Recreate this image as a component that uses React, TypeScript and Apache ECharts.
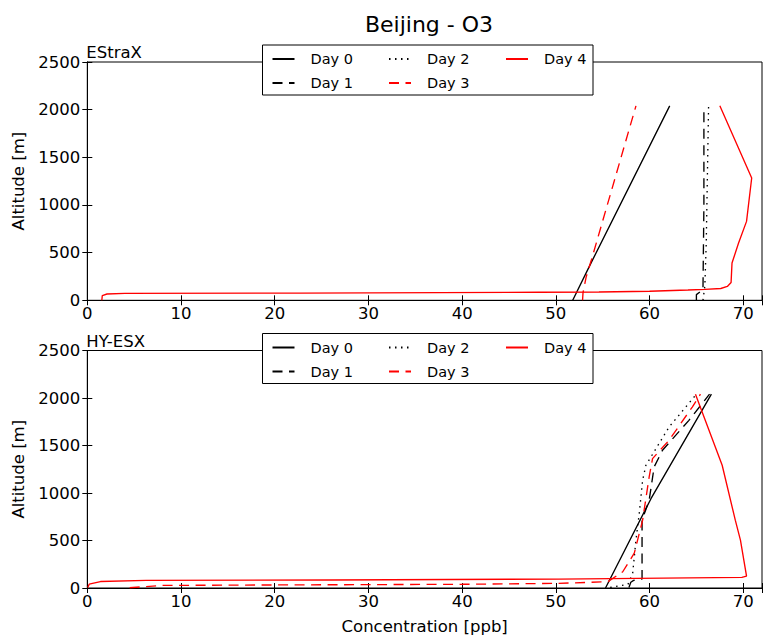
import React, { useEffect, useRef } from "react";
import * as echarts from "echarts";

// ---------- data ----------
const X_MIN = 0;
const X_MAX = 72;
const X_STEP = 10;
const Y_MIN = 0;
const Y_MAX = 2500;
const Y_STEP = 500;

const TITLE = "Beijing - O3";
const PANEL_NAMES = ["EStraX", "HY-ESX"];
const X_LABEL = "Concentration [ppb]";
const Y_LABEL = "Altitude [m]";
const DAY_NAMES = ["Day 0", "Day 1", "Day 2", "Day 3", "Day 4"];

// EStraX profiles: [concentration ppb, altitude m]
const estraxDay0 = [[51.8, 0], [53.8, 400], [62.15, 2040]];
const estraxDay1 = [[65.0, 0], [65.0, 60], [65.7, 110], [65.8, 1000], [65.8, 2040]];
const estraxDay2 = [[65.7, 0], [65.9, 150], [66.05, 600], [66.3, 2040]];
const estraxDay3 = [[52.85, 0], [52.9, 80], [53.25, 250], [53.8, 425], [58.55, 2040]];
const estraxDay4 = [
  [1.55, 0], [1.6, 50], [2.1, 66], [4, 72], [22.7, 76], [48.2, 84], [54.6, 87],
  [60, 95], [64.1, 108], [65.9, 115], [67.6, 124], [68.3, 145], [68.7, 187],
  [68.8, 391], [69.5, 601], [70.35, 828], [70.9, 1283], [67.5, 2040],
];

// HY-ESX profiles
const hyDay0 = [[55.3, 0], [60.15, 940], [66.6, 2040]];
const hyDay1 = [
  [57.8, 5], [58.0, 60], [58.3, 80], [59.2, 95], [59.2, 714], [59.96, 924],
  [60.49, 1274], [61.38, 1450], [64.2, 1765], [66.4, 2040],
];
const hyDay2 = [
  [55.8, 5], [57.7, 40], [58.2, 157], [58.55, 504], [58.9, 784], [59.26, 1134],
  [59.61, 1292], [62.08, 1694], [65.0, 2040],
];
const hyDay3 = [
  [4.52, 3], [8.0, 27], [20, 32], [40, 39], [50.3, 49], [55.55, 66], [57.14, 171],
  [58.37, 367], [59.26, 714], [59.96, 1170], [60.32, 1362], [62.08, 1555],
  [64.56, 1905], [65.43, 2040],
];
const hyDay4 = [
  [0.05, 5], [0.2, 40], [1.4, 68], [6.3, 80], [26, 84], [50.3, 94], [69.85, 112],
  [70.35, 126], [69.7, 504], [69.15, 714], [67.75, 1292], [64.9, 2040],
];

const PANEL_DATA = [
  [estraxDay0, estraxDay1, estraxDay2, estraxDay3, estraxDay4],
  [hyDay0, hyDay1, hyDay2, hyDay3, hyDay4],
];

// ---------- styles ----------
const FONT = "DejaVu Sans";
const DAY_STYLE: Record<string, { color: string; type: any }> = {
  "Day 0": { color: "#000000", type: "solid" },
  "Day 1": { color: "#000000", type: [10, 6.5] },
  "Day 2": { color: "#000000", type: [1.5, 4.5] },
  "Day 3": { color: "#ff0000", type: [10, 6.5] },
  "Day 4": { color: "#ff0000", type: "solid" },
};

const GRID_LEFT = 87.3;
const GRID_RIGHT = -2;
const GRID_TOPS = [62, 350.5];
const GRID_H = 238.3;

export default function App() {
  const ref = useRef<HTMLDivElement>(null);

  useEffect(() => {
    if (!ref.current) return;
    const chart = echarts.init(ref.current, undefined, { renderer: "svg" });

    const tickLabel = {
      color: "#000",
      fontSize: 16.5,
      fontFamily: FONT,
    };

    const grids: any[] = [];
    const xAxes: any[] = [];
    const yAxes: any[] = [];
    const series: any[] = [];
    const legends: any[] = [];
    const graphics: any[] = [];
    const titles: any[] = [
      {
        text: TITLE,
        left: 424,
        top: 8,
        textAlign: "center",
        textStyle: { fontSize: 22, fontWeight: "normal", color: "#000", fontFamily: FONT },
      },
    ];

    PANEL_NAMES.forEach((pname, p) => {
      const top = GRID_TOPS[p];
      grids.push({
        left: GRID_LEFT,
        right: GRID_RIGHT,
        top,
        height: GRID_H,
        show: true,
        borderColor: "#000",
        borderWidth: 1,
        backgroundColor: "transparent",
      });
      const isBottom = p === PANEL_NAMES.length - 1;
      xAxes.push({
        type: "value",
        gridIndex: p,
        position: "bottom",
        min: X_MIN,
        max: X_MAX,
        interval: X_STEP,
        axisLine: { show: true, lineStyle: { color: "#000", width: 1 } },
        axisTick: { show: true, inside: true, length: 5, lineStyle: { color: "#000" } },
        axisLabel: {
          ...tickLabel,
          margin: 5,
          formatter: (v: number) => (v % X_STEP === 0 ? String(v) : ""),
        },
        splitLine: { show: false },
        name: isBottom ? X_LABEL : "",
        nameLocation: "middle",
        nameGap: 30,
        nameTextStyle: { ...tickLabel },
      });
      xAxes.push({
        type: "value",
        gridIndex: p,
        position: "top",
        min: X_MIN,
        max: X_MAX,
        interval: X_STEP,
        axisLine: { show: true, lineStyle: { color: "#000", width: 1 } },
        axisTick: { show: true, inside: true, length: 5, lineStyle: { color: "#000" } },
        axisLabel: { show: false },
        splitLine: { show: false },
      });
      yAxes.push({
        type: "value",
        gridIndex: p,
        position: "left",
        min: Y_MIN,
        max: Y_MAX,
        interval: Y_STEP,
        axisLine: { show: true, lineStyle: { color: "#000", width: 1 } },
        axisTick: { show: true, inside: true, length: 5, lineStyle: { color: "#000" } },
        axisLabel: { ...tickLabel, margin: 7, formatter: (v: number) => String(v) },
        splitLine: { show: false },
        name: Y_LABEL,
        nameLocation: "middle",
        nameGap: 54,
        nameTextStyle: { ...tickLabel },
      });
      yAxes.push({
        type: "value",
        gridIndex: p,
        position: "right",
        min: Y_MIN,
        max: Y_MAX,
        interval: Y_STEP,
        axisLine: { show: true, lineStyle: { color: "#000", width: 1 } },
        axisTick: { show: true, inside: true, length: 5, lineStyle: { color: "#000" } },
        axisLabel: { show: false },
        splitLine: { show: false },
      });

      DAY_NAMES.forEach((name, d) => {
        const st = DAY_STYLE[name];
        series.push({
          type: "line",
          name,
          xAxisIndex: p * 2,
          yAxisIndex: p * 2,
          data: PANEL_DATA[p][d],
          symbol: "none",
          showSymbol: false,
          smooth: false,
          clip: true,
          z: 2,
          lineStyle: { color: st.color, width: 1.35, type: st.type },
          itemStyle: { color: st.color },
        });
      });

      titles.push({
        text: pname,
        left: GRID_LEFT - 1,
        top: top - 18,
        padding: 0,
        textStyle: { fontSize: 16.5, fontWeight: "normal", color: "#000", fontFamily: FONT },
      });

      graphics.push({
        type: "rect",
        z: 5,
        shape: { x: 262.5, y: top - 17, width: 330.5, height: 50 },
        style: { fill: "#ffffff", stroke: "#000", lineWidth: 1 },
      });

      const cols: [string[], number][] = [
        [[DAY_NAMES[0], DAY_NAMES[1]], 271.5],
        [[DAY_NAMES[2], DAY_NAMES[3]], 388],
        [[DAY_NAMES[4]], 505],
      ];
      cols.forEach(([names, left]) => {
        legends.push({
          data: names,
          left,
          top: top - 10.5,
          orient: "vertical",
          itemWidth: 22,
          itemHeight: 14,
          itemGap: 9,
          padding: 0,
          selectedMode: false,
          z: 10,
          itemStyle: { color: "transparent", borderColor: "transparent", borderWidth: 0, opacity: 0 },
          textStyle: {
            fontSize: 14.5,
            color: "#000",
            fontFamily: FONT,
            padding: [0, 0, 0, 11],
          },
        });
      });
    });

    chart.setOption({
      animation: false,
      backgroundColor: "#ffffff",
      textStyle: { fontFamily: FONT },
      title: titles,
      grid: grids,
      xAxis: xAxes,
      yAxis: yAxes,
      legend: legends,
      graphic: graphics,
      series,
    });

    return () => chart.dispose();
  }, []);

  return (
    <div
      ref={ref}
      style={{ position: "fixed", left: 0, top: 0, width: 765, height: 636, background: "#fff" }}
    />
  );
}
